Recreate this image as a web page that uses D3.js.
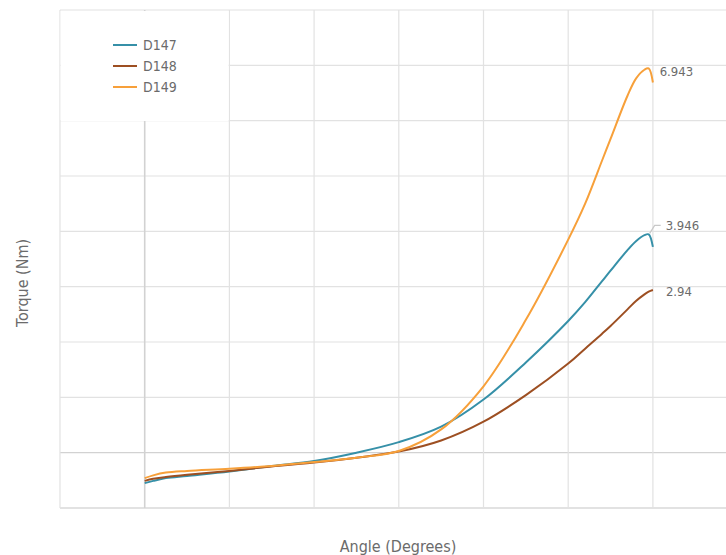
<!DOCTYPE html>
<html>
<head>
<meta charset="utf-8">
<script src="https://cdn.jsdelivr.net/npm/d3@7"></script>
<style>
  body { margin: 0; background: #fff; }
  text { font-family: "DejaVu Sans Condensed", "DejaVu Sans", sans-serif; fill: #6b6b6b; }
</style>
</head>
<body>
<div id="canvas"></div>
<script>
const angles = [0, 1, 2.5, 5, 10, 15, 20, 25, 30, 35, 40, 45, 50, 52, 54, 55, 57, 58, 59, 59.5, 60];
const d147 = [-0.55, -0.51, -0.46, -0.42, -0.34, -0.24, -0.15, 0.0, 0.19, 0.47, 0.96, 1.63, 2.38, 2.72, 3.10, 3.29, 3.66, 3.82, 3.93, 3.946, 3.72];
const d148 = [-0.51, -0.47, -0.44, -0.40, -0.33, -0.25, -0.18, -0.09, 0.02, 0.22, 0.56, 1.04, 1.61, 1.88, 2.15, 2.29, 2.59, 2.74, 2.86, 2.91, 2.94];
const d149 = [-0.46, -0.41, -0.36, -0.33, -0.29, -0.24, -0.17, -0.09, 0.03, 0.42, 1.20, 2.40, 3.85, 4.50, 5.28, 5.67, 6.45, 6.76, 6.92, 6.943, 6.69];
const seriesNames = ["D147", "D148", "D149"];
const colors = ["#3690a8", "#9d4f22", "#f7a03a"];
const xTicks = [-10, 0, 10, 20, 30, 40, 50, 60, 70];
const yTicks = [-1, 0, 1, 2, 3, 4, 5, 6, 7, 8];

const width = 726;
const height = 555;

const svg = d3.select("#canvas").append("svg")
  .attr("width", width)
  .attr("height", height);

const x = d3.scaleLinear().domain([-10, 70]).range([60, 737.6]);
const y = d3.scaleLinear().domain([-1, 8]).range([508, 10]);

// grid
const grid = svg.append("g");
grid.selectAll(".hline").data(yTicks).enter().append("line")
  .attr("x1", 60).attr("x2", width)
  .attr("y1", (d) => y(d)).attr("y2", (d) => y(d))
  .attr("stroke", (d) => (d === 0 ? "#d2d2d2" : "#e2e2e2"))
  .attr("stroke-width", (d) => (d === -1 ? 2 : 1.2));
grid.selectAll(".vline").data(xTicks.filter((d) => x(d) < width)).enter().append("line")
  .attr("y1", y(8)).attr("y2", y(-1))
  .attr("x1", (d) => x(d)).attr("x2", (d) => x(d))
  .attr("stroke", (d) => (d === 0 ? "#d2d2d2" : "#e2e2e2"))
  .attr("stroke-width", (d) => (d === 0 ? 1.6 : 1.2));

// lines
const all = [d147, d148, d149];
const line = d3.line()
  .x((d, i) => x(angles[i]))
  .y((d) => y(d))
  .curve(d3.curveCatmullRom.alpha(0.5));

svg.append("g").selectAll("path").data(all).enter().append("path")
  .attr("d", (d) => line(d))
  .attr("fill", "none")
  .attr("stroke", (d, i) => colors[i])
  .attr("stroke-width", 2);

// value labels (max of each series)
const maxIdx = all.map((s) => d3.maxIndex(s));
// D149
svg.append("text")
  .attr("x", x(angles[maxIdx[2]]) + 11)
  .attr("y", y(all[2][maxIdx[2]]) + 8)
  .attr("font-size", 13)
  .text("6.943");
// D147 with leader
const bx = x(angles[maxIdx[0]]);
const by = y(all[0][maxIdx[0]]);
svg.append("polyline")
  .attr("points", `${bx + 1},${by - 1} ${bx + 6},${by - 9} ${bx + 12},${by - 9}`)
  .attr("fill", "none")
  .attr("stroke", "#c8c8c8")
  .attr("stroke-width", 1.2);
svg.append("text")
  .attr("x", bx + 17)
  .attr("y", by - 4)
  .attr("font-size", 13)
  .text("3.946");
// D148
svg.append("text")
  .attr("x", x(angles[maxIdx[1]]) + 13)
  .attr("y", y(all[1][maxIdx[1]]) + 6)
  .attr("font-size", 13)
  .text("2.94");

// legend
const lg = svg.append("g");
lg.append("rect")
  .attr("x", 60.6).attr("y", 11).attr("width", 168).attr("height", 110)
  .attr("fill", "#fff");
seriesNames.forEach((n, i) => {
  lg.append("line")
    .attr("x1", 113).attr("x2", 137)
    .attr("y1", 45 + i * 21).attr("y2", 45 + i * 21)
    .attr("stroke", colors[i]).attr("stroke-width", 2);
  lg.append("text")
    .attr("x", 143).attr("y", 50 + i * 21)
    .attr("font-size", 14)
    .text(n);
});

// axis titles
svg.append("text")
  .attr("x", 398).attr("y", 552)
  .attr("text-anchor", "middle")
  .attr("font-size", 16)
  .text("Angle (Degrees)");
svg.append("text")
  .attr("transform", "translate(28, 283) rotate(-90)")
  .attr("text-anchor", "middle")
  .attr("font-size", 16)
  .text("Torque (Nm)");
</script>
</body>
</html>
